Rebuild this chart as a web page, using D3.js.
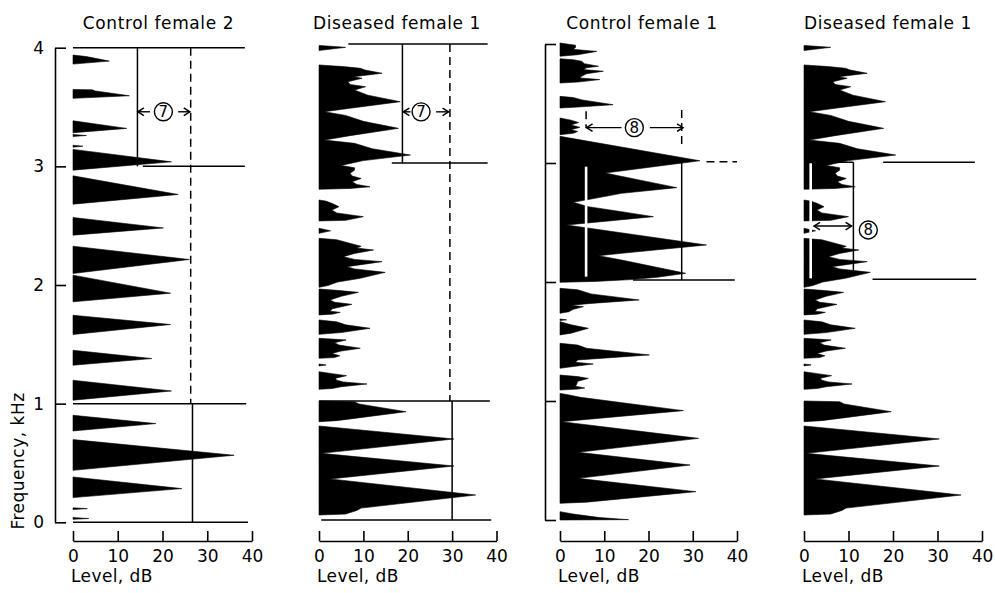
<!DOCTYPE html>
<html><head><meta charset="utf-8">
<script src="https://cdn.jsdelivr.net/npm/d3@7"></script>
<style>
html,body{margin:0;padding:0;background:#fff;}
svg text{font-family:"DejaVu Sans",sans-serif;fill:#000;}
</style></head><body>
<svg id="chart" width="995" height="593"></svg>
<script>
// ---------------- DATA ----------------
const panelTitles = ["Control female 2", "Diseased female 1", "Control female 1", "Diseased female 1"];
const levelTicks = [0, 10, 20, 30, 40];
const freqTicks = [0, 1, 2, 3, 4];
const levelLabel = "Level, dB";
const freqLabel = "Frequency, kHz";

// spectra: clusters of [frequency kHz, level dB] along the right edge
const control2Spectrum = [
  [[0.025,0],[0.032,3.5],[0.040,0]],
  [[0.108,0],[0.115,3.2],[0.122,0]],
  [[0.208,0],[0.284,24.3],[0.382,0]],
  [[0.438,0],[0.565,36.0],[0.697,0]],
  [[0.770,0],[0.832,18.5],[0.902,0]],
  [[1.029,0],[1.107,22.0],[1.197,0]],
  [[1.324,0],[1.380,17.6],[1.450,0]],
  [[1.583,0],[1.667,21.8],[1.745,0]],
  [[1.858,0],[1.931,21.8],[2.083,0]],
  [[2.097,0],[2.215,26.0],[2.327,0]],
  [[2.420,0],[2.481,20.2],[2.569,0]],
  [[2.681,0],[2.763,23.5],[2.920,0]],
  [[2.968,0],[3.038,22.0],[3.143,0]],
  [[3.162,0],[3.170,2.2],[3.178,0]],
  [[3.252,0],[3.260,3.0],[3.268,0]],
  [[3.283,0],[3.320,12.0],[3.384,0]],
  [[3.573,0],[3.595,12.6],[3.635,5],[3.645,4.3],[3.648,0]],
  [[3.862,0],[3.887,8.1],[3.925,3],[3.938,0]]
];

const diseased1Spectrum = [
  [[0.042,0],[0.050,6],[0.080,8.5],[0.100,9.5],[0.210,35.3],[0.345,2.5],[0.454,30.4],[0.560,0.5],[0.681,30.4],[0.790,0]],
  [[0.826,0],[0.835,4],[0.910,19.6],[0.975,9],[0.994,8],[1.000,0]],
  [[1.098,0],[1.105,3],[1.120,5],[1.143,10.8],[1.160,5.5],[1.175,4],[1.191,3.7],[1.213,6.2],[1.230,3],[1.246,0]],
  [[1.295,0],[1.303,1.6],[1.311,0]],
  [[1.359,0],[1.365,3.5],[1.380,4.7],[1.400,2.9],[1.420,5],[1.443,9.3],[1.470,4.5],[1.490,3.5],[1.513,6.1],[1.520,3],[1.527,0]],
  [[1.560,0],[1.575,5],[1.611,11.5],[1.640,6],[1.665,4],[1.681,0]],
  [[1.723,0],[1.730,3],[1.745,4.8],[1.755,2.5],[1.775,3],[1.800,6],[1.812,7.4],[1.830,3.5],[1.849,2.5],[1.880,5],[1.913,8.9],[1.930,4],[1.941,0]],
  [[1.955,0],[1.970,2],[2.000,4.2],[2.031,9.3],[2.081,14.9],[2.110,8],[2.129,6.3],[2.171,14.2],[2.190,8],[2.213,5.5],[2.240,8],[2.269,12.3],[2.285,8.5],[2.300,9.5],[2.330,6.5],[2.355,4],[2.367,0]],
  [[2.409,0],[2.430,2.6],[2.451,0]],
  [[2.513,0],[2.518,6],[2.549,10],[2.580,4],[2.605,2.9],[2.633,4.5],[2.660,3],[2.680,1.5],[2.689,0]],
  [[2.779,0],[2.786,7],[2.800,11.5],[2.820,8.5],[2.843,7.5],[2.870,9.5],[2.890,7.5],[2.913,7],[2.940,8],[2.960,8],[2.980,5],[3.020,10],[3.067,20.6],[3.120,12],[3.165,8],[3.193,1.2],[3.230,7],[3.291,17.9],[3.350,10],[3.400,6],[3.431,1.2],[3.460,7],[3.515,18.3],[3.570,11],[3.613,8],[3.641,10.5],[3.660,7],[3.683,6.5],[3.712,9.7],[3.725,7.8],[3.754,14.2],[3.781,10.4],[3.796,9.3],[3.810,5.5],[3.824,0]],
  [[3.945,0],[3.972,6],[3.988,0]]
];

const control1Spectrum = [
  [[0.000,0],[0.003,15.5],[0.020,9],[0.050,3],[0.070,0]],
  [[0.140,0],[0.150,6],[0.238,30.7],[0.350,4.1],[0.462,29.4],[0.569,4.1],[0.686,31.3],[0.826,0.3],[0.919,27.9],[1.031,4.6],[1.055,1.5],[1.064,0]],
  [[1.092,0],[1.100,4],[1.109,5.6],[1.125,3.5],[1.143,3.8],[1.165,4],[1.190,6.4],[1.205,4],[1.218,0]],
  [[1.275,0],[1.290,3],[1.311,7.5],[1.325,3.5],[1.345,4],[1.387,20.2],[1.443,6],[1.470,4],[1.485,0]],
  [[1.555,0],[1.570,2.5],[1.611,6.4],[1.640,2.5],[1.667,0]],
  [[1.676,0],[1.682,1.5],[1.689,0]],
  [[1.737,0],[1.750,2],[1.770,3],[1.793,5.3],[1.805,2.5],[1.820,7],[1.849,17.9],[1.900,7],[1.935,4],[1.947,0]],
  [[1.997,0],[2.005,8],[2.020,16],[2.040,22],[2.073,28.4],[2.185,13.9],[2.221,8.7],[2.241,13.9],[2.311,33.1],[2.479,1.5],[2.549,21.1],[2.591,13.9],[2.633,6.4],[2.670,3],[2.703,7.9],[2.745,13.9],[2.793,26.4],[2.916,10.2],[3.019,31.6],[3.224,0]],
  [[3.238,0],[3.250,3],[3.265,4],[3.280,2.5],[3.300,4.5],[3.320,2.5],[3.340,4.2],[3.360,2.5],[3.378,0]],
  [[3.462,0],[3.470,4],[3.490,12.0],[3.530,5],[3.550,3],[3.560,0]],
  [[3.672,0],[3.680,4],[3.701,9.0],[3.715,4.5],[3.729,4.9],[3.750,6],[3.771,9.8],[3.785,5.3],[3.800,6],[3.813,8.7],[3.835,5.5],[3.855,4.9],[3.868,3],[3.876,0]],
  [[3.897,0],[3.910,4],[3.938,8.3],[3.955,3],[3.970,3.5],[3.990,3.5],[4.008,0]]
];

// annotation lines: [dB1, kHz1, dB2, kHz2]
const p1Solid  = [[0,4,38.4,4],[14.4,4,14.4,3],[15.6,3,38.4,3],[0,1,38.7,1],[26.7,1,26.7,0],[0,0,39.1,0]];
const p1Dashed = [[26.3,4,26.3,1]];
const p1Arrows = [[17.2,3.46,14.5,3.46],[23.5,3.46,26.1,3.46]];
const p1Marks  = [[20.2,3.46,"7"]];

const p2Solid  = [[6.6,4,38,4],[18.8,4,18.8,3],[16.4,3,38,3],[0,1,38.5,1],[30,1,30,0],[0.5,0,38.8,0]];
const p2Dashed = [[29.5,4,29.5,1]];
const p2Arrows = [[20.6,3.43,19.0,3.43],[26.4,3.43,29.2,3.43]];
const p2Marks  = [[23.0,3.43,"7"]];

const p3Solid  = [[27.5,3.025,27.5,2.017],[16.5,2.017,39.5,2.017]];
const p3Dashed = [[5.9,3.434,5.9,3.294],[27.5,3.445,27.5,3.137],[33.1,3.01,40,3.01]];
const p3White  = [[5.9,2.969,5.9,2.045]];
const p3Arrows = [[13.9,3.297,6.0,3.297],[20.3,3.297,27.8,3.297]];
const p3Marks  = [[16.8,3.297,"8"]];

const p4Solid  = [[17.8,3.006,38.4,3.006],[15.4,2.023,38.7,2.023],[1.5,3.006,11.1,3.006],[11.1,3.006,11.1,2.08]];
const p4White  = [[1.5,2.998,1.5,2.031]];
const p4DblArrows = [[2.25,2.47,10.7,2.47]];
const p4Marks  = [[14.45,2.437,"8"]];

// ---------------- LAYOUT ----------------
const layout = [
  {x0:73,  x1:252,   yTop:47.7, yBot:522.3, tx:158.5, yAxis:"labels"},
  {x0:319, x1:496.5, yTop:44,   yBot:520,   tx:397,   yAxis:"none"},
  {x0:560, x1:737,   yTop:44,   yBot:520,   tx:642,   yAxis:"bracket"},
  {x0:804, x1:982,   yTop:44,   yBot:520,   tx:888,   yAxis:"none"}
];
const panels = [
  {spec:control2Spectrum, solid:p1Solid, dashed:p1Dashed, white:[], arrows:p1Arrows, dbl:[], marks:p1Marks},
  {spec:diseased1Spectrum, solid:p2Solid, dashed:p2Dashed, white:[], arrows:p2Arrows, dbl:[], marks:p2Marks},
  {spec:control1Spectrum, solid:p3Solid, dashed:p3Dashed, white:p3White, arrows:p3Arrows, dbl:[], marks:p3Marks},
  {spec:diseased1Spectrum, solid:p4Solid, dashed:[], white:p4White, arrows:[], dbl:p4DblArrows, marks:p4Marks}
];
const axisY = 541;
const FS = 17;

const svg = d3.select("#chart");
svg.append("rect").attr("width",995).attr("height",593).attr("fill","#fff");

const defs = svg.append("defs");
defs.append("marker").attr("id","head").attr("viewBox","-8 -5 10 10")
  .attr("refX",0).attr("refY",0).attr("markerWidth",10).attr("markerHeight",10)
  .attr("markerUnits","userSpaceOnUse").attr("orient","auto-start-reverse")
  .append("path").attr("d","M-6,-3.8L0,0L-6,3.8").attr("fill","none")
  .attr("stroke","#000").attr("stroke-width",1.5);

panels.forEach((p, i) => {
  const L = layout[i];
  const x = d3.scaleLinear().domain([0, 40]).range([L.x0, L.x1]);
  const y = d3.scaleLinear().domain([0, 4]).range([L.yBot, L.yTop]);
  const g = svg.append("g");

  // spectrum
  const area = d3.area().curve(d3.curveLinear)
    .y(d => y(d[0])).x0(x(0)).x1(d => x(d[1]));
  g.selectAll("path.spec").data(p.spec).join("path")
    .attr("class","spec").attr("d", area).attr("fill","#000")
    .attr("stroke","#000").attr("stroke-width",0.6);

  const line = (sel, data, color, w, dash) => sel.selectAll(null).data(data).join("line")
    .attr("x1", d => x(d[0])).attr("y1", d => y(d[1]))
    .attr("x2", d => x(d[2])).attr("y2", d => y(d[3]))
    .attr("stroke", color).attr("stroke-width", w)
    .attr("stroke-dasharray", dash);

  line(g, p.white, "#fff", 2.6, null);
  line(g, p.solid, "#000", 1.5, null);
  line(g, p.dashed, "#000", 1.5, "8,5");
  line(g, p.arrows, "#000", 1.4, null).attr("marker-end","url(#head)");
  line(g, p.dbl, "#000", 1.4, null).attr("marker-end","url(#head)").attr("marker-start","url(#head)");

  g.selectAll("circle.mk").data(p.marks).join("circle").attr("class","mk")
    .attr("cx", d => x(d[0])).attr("cy", d => y(d[1])).attr("r", 9)
    .attr("fill","#fff").attr("stroke","#000").attr("stroke-width",1.4);
  g.selectAll("text.mk").data(p.marks).join("text").attr("class","mk")
    .attr("x", d => x(d[0])).attr("y", d => y(d[1]))
    .attr("dy","0.36em").attr("text-anchor","middle")
    .attr("font-size",15).text(d => d[2]);

  // x axis
  const xa = g.append("g").attr("transform",`translate(0,${axisY})`)
    .call(d3.axisBottom(x).tickValues(levelTicks).tickSizeInner(-10).tickSizeOuter(0).tickPadding(9));
  xa.attr("font-size",FS).attr("font-family","DejaVu Sans");
  xa.selectAll("path,line").attr("stroke","#000").attr("stroke-width",1.6);
  xa.selectAll("text").attr("fill","#000");

  g.append("text").attr("x", L.x0 - 2).attr("y", 582).attr("font-size",FS)
    .attr("letter-spacing","0.4px").text(levelLabel);

  // title
  g.append("text").attr("x", L.tx).attr("y", 29).attr("text-anchor","middle")
    .attr("font-size",FS).attr("letter-spacing","0.6px").text(panelTitles[i]);

  // y axis
  if (L.yAxis !== "none") {
    const axX = L.yAxis === "labels" ? 55 : 545;
    const ya = g.append("g").attr("transform",`translate(${axX},0)`)
      .call(d3.axisLeft(y).tickValues(freqTicks).tickSizeInner(-11).tickSizeOuter(0).tickPadding(11)
        .tickFormat(L.yAxis === "labels" ? d3.format("d") : () => ""));
    ya.attr("font-size",FS).attr("font-family","DejaVu Sans");
    ya.selectAll("path,line").attr("stroke","#000").attr("stroke-width",1.6);
    ya.selectAll("text").attr("fill","#000");
  }
});

svg.append("text").attr("transform","translate(24,461) rotate(-90)")
  .attr("text-anchor","middle").attr("font-size",FS).attr("letter-spacing","0.5px")
  .text(freqLabel);
</script>
</body></html>
